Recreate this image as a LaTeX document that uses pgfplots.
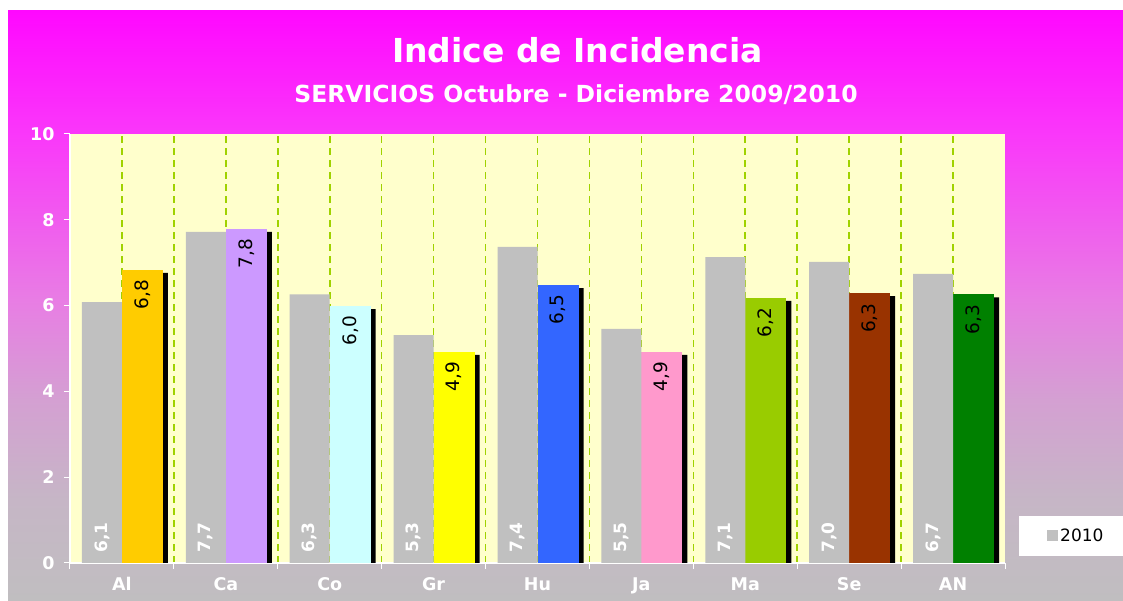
\documentclass[border=0pt]{standalone}
\usepackage{fontspec}
\setmainfont{DejaVu Sans}
\usepackage{pgfplots}
\pgfplotsset{compat=1.18}
\usepackage{pgfplotstable}

\definecolor{barGray}{HTML}{C0C0C0}
\definecolor{plotBg}{HTML}{FFFFCC}
\definecolor{gridGreen}{RGB}{160,210,0}
\definecolor{cAl}{HTML}{FFCC00}
\definecolor{cCa}{HTML}{CC99FF}
\definecolor{cCo}{HTML}{CCFFFF}
\definecolor{cGr}{HTML}{FFFF00}
\definecolor{cHu}{HTML}{3366FF}
\definecolor{cJa}{HTML}{FF99CC}
\definecolor{cMa}{HTML}{99CC00}
\definecolor{cSe}{HTML}{993300}
\definecolor{cAN}{HTML}{008000}

\definecolor{bgA}{RGB}{192,190,192}
\definecolor{bgB}{RGB}{198,182,198}
\definecolor{bgC}{RGB}{212,160,210}
\definecolor{bgD}{RGB}{232,125,228}
\definecolor{bgE}{RGB}{250,55,250}
\definecolor{bgF}{RGB}{255,8,255}
\pgfdeclareverticalshading{bgshade}{100bp}{color(0bp)=(bgA); color(25bp)=(bgA); color(33.6bp)=(bgB); color(42bp)=(bgC); color(50.5bp)=(bgD); color(64.6bp)=(bgE); color(75bp)=(bgF); color(100bp)=(bgF)}

\pgfplotstableread{
x g c z
0 6.08 6.83 0
1 7.72 7.79 0
2 6.26 5.99 0
3 5.31 4.92 0
4 7.37 6.48 0
5 5.46 4.92 0
6 7.13 6.18 0
7 7.02 6.29 0
8 6.74 6.26 0
}\datatable

\pgfplotsset{/pgf/number format/assume math mode=true}

\begin{document}
\begin{tikzpicture}
\useasboundingbox (0,0) rectangle (1123pt,601pt);
\clip (0,0) rectangle (1123pt,601pt);
\fill[white] (0,0) rectangle (1123pt,601pt);
\shade[shading=bgshade] (8pt,0pt) rectangle (1123pt,590pt);
\node[anchor=base, text=white, font=\fontsize{33}{33}\selectfont\bfseries] at (577.5pt,538.5pt) {Indice de Incidencia};
\node[anchor=base, text=white, font=\fontsize{23.5}{23.5}\selectfont\bfseries] at (576pt,498pt) {SERVICIOS Octubre - Diciembre 2009/2010};
\begin{axis}[
  at={(70pt,38pt)}, anchor=south west,
  scale only axis, width=935pt, height=429pt,
  xmin=-0.5, xmax=8.5, ymin=0, ymax=10,
  ybar,
  axis lines*=left,
  axis line style={white, line width=1.2pt},
  axis background/.style={fill=plotBg},
  xtick={-0.5,0.5,...,8.5},
  xticklabels={Al,Ca,Co,Gr,Hu,Ja,Ma,Se,AN,{}},
  xticklabel style={xshift=51.95pt, yshift=-5pt},
  minor xtick={0,0.5,...,8},
  xminorgrids,
  minor x grid style={color=gridGreen, line width=1.6pt, dash pattern=on 7pt off 5pt, opacity=1},
  minor tick length=0pt,
  ytick={0,2,...,10},
  yticklabel style={xshift=-6pt},
  major tick length=6pt,
  tick align=outside,
  major tick style={white, line width=1pt},
  ticklabel style={font=\fontsize{17.5}{17.5}\selectfont\bfseries, text=white},
  legend style={at={(axis description cs:1.015,0.0163)}, anchor=south west, draw=none, fill=white,
    font=\fontsize{17}{17}\selectfont, inner xsep=28pt, inner ysep=11pt,
    /tikz/every even column/.append style={column sep=5pt}},
  clip=true,
]
% shadow
\addplot[fill=black, draw=none, bar width=41pt, bar shift=25.5pt, yshift=-3pt, forget plot] table[x=x,y=c]{\datatable};
% coloured bars
\addplot[fill=cAl, draw=none, bar width=41pt, bar shift=20.5pt, forget plot] coordinates {(0,6.83)};
\addplot[fill=cCa, draw=none, bar width=41pt, bar shift=20.5pt, forget plot] coordinates {(1,7.79)};
\addplot[fill=cCo, draw=none, bar width=41pt, bar shift=20.5pt, forget plot] coordinates {(2,5.99)};
\addplot[fill=cGr, draw=none, bar width=41pt, bar shift=20.5pt, forget plot] coordinates {(3,4.92)};
\addplot[fill=cHu, draw=none, bar width=41pt, bar shift=20.5pt, forget plot] coordinates {(4,6.48)};
\addplot[fill=cJa, draw=none, bar width=41pt, bar shift=20.5pt, forget plot] coordinates {(5,4.92)};
\addplot[fill=cMa, draw=none, bar width=41pt, bar shift=20.5pt, forget plot] coordinates {(6,6.18)};
\addplot[fill=cSe, draw=none, bar width=41pt, bar shift=20.5pt, forget plot] coordinates {(7,6.29)};
\addplot[fill=cAN, draw=none, bar width=41pt, bar shift=20.5pt, forget plot] coordinates {(8,6.26)};
% grey bars
\addplot[fill=barGray, draw=none, bar width=40pt, bar shift=-20pt,
  legend image code/.code={\fill[barGray] (0pt,-5.5pt) rectangle (11pt,5.5pt);}] table[x=x,y=g]{\datatable};
\addlegendentry{2010\hspace{14pt}}
% grey labels (at base)
\addplot[draw=none, fill=none, bar width=40pt, bar shift=-20pt, forget plot,
  point meta=\thisrow{g},
  nodes near coords={\pgfmathprintnumber[fixed,fixed zerofill,precision=1,use comma]{\pgfplotspointmeta}},
  nodes near coords align={west},
  every node near coord/.append style={rotate=90, text=white, font=\fontsize{17}{17}\selectfont\bfseries, inner xsep=10pt, inner ysep=0pt}]
  table[x=x,y=z]{\datatable};
% coloured labels (at top)
\addplot[draw=none, fill=none, bar width=41pt, bar shift=20.5pt, forget plot,
  point meta=\thisrow{c},
  nodes near coords={\pgfmathprintnumber[fixed,fixed zerofill,precision=1,use comma]{\pgfplotspointmeta}},
  nodes near coords align={east},
  every node near coord/.append style={rotate=90, text=black, font=\fontsize{18.5}{18.5}\selectfont, inner xsep=10pt, inner ysep=0pt}]
  table[x=x,y=c]{\datatable};
\end{axis}
\end{tikzpicture}
\end{document}
